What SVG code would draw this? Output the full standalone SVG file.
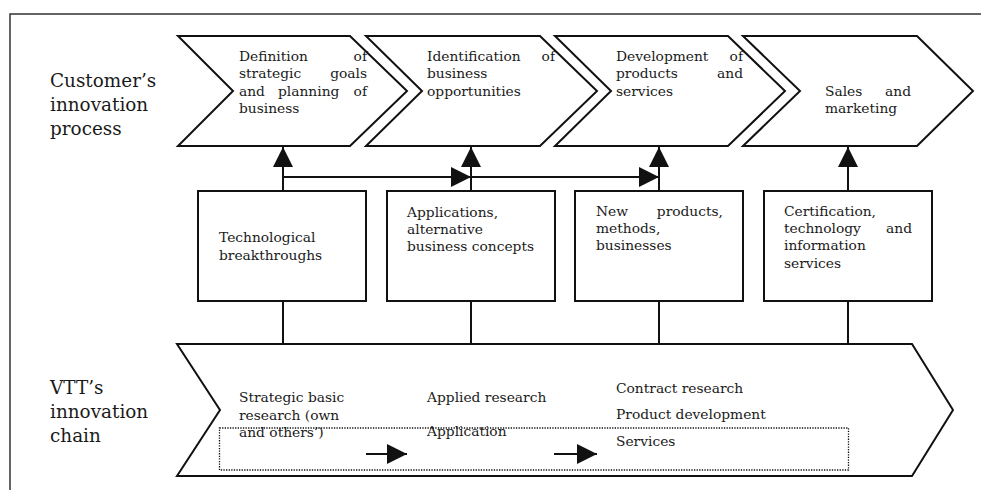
<svg xmlns="http://www.w3.org/2000/svg" width="981" height="490" viewBox="0 0 981 490">
  <defs>
    <style>
      .frame { fill: none; stroke: #333; stroke-width: 1.5; }
      .shape { fill: #fff; stroke: #111; stroke-width: 2; stroke-linejoin: miter; }
      .link { fill: none; stroke: #111; stroke-width: 2; }
      .dotted { fill: none; stroke: #111; stroke-width: 1.3; stroke-dasharray: 1.3 1.3; }
      .t { font-family: "DejaVu Serif", "Liberation Serif", serif; font-size: 13.8px; fill: #1a1a1a; }
      .big { font-family: "DejaVu Serif", "Liberation Serif", serif; font-size: 18.4px; fill: #1a1a1a; }
      .end { text-anchor: end; }
    </style>
    <marker id="head" markerUnits="userSpaceOnUse" viewBox="0 0 20 20" refX="20" refY="10" markerWidth="20" markerHeight="20" orient="auto">
      <path d="M0,0 L20,10 L0,20 z" fill="#111"/>
    </marker>
  </defs>

  <rect width="981" height="490" fill="#fff"/>

  <!-- outer frame: top and left edges only -->
  <path class="frame" d="M10,490 L10,14 L981,14"/>

  <!-- side labels -->
  <g id="label-customer">
    <text class="big" x="50" y="87">Customer’s</text>
    <text class="big" x="50" y="111">innovation</text>
    <text class="big" x="50" y="135">process</text>
  </g>
  <g id="label-vtt">
    <text class="big" x="50" y="394">VTT’s</text>
    <text class="big" x="50" y="418">innovation</text>
    <text class="big" x="50" y="442">chain</text>
  </g>

  <!-- customer's process steps -->
  <g id="step-strategy">
    <path class="shape" d="M178,36 L350,36 L407,91 L350,146 L178,146 L233,91 Z"/>
    <text class="t" x="239" y="61">Definition</text>
    <text class="t end" x="367" y="61">of</text>
    <text class="t" x="239" y="78">strategic</text>
    <text class="t end" x="367" y="78">goals</text>
    <text class="t" x="239" y="96">and</text>
    <text class="t" x="278" y="96">planning</text>
    <text class="t end" x="367" y="96">of</text>
    <text class="t" x="239" y="113">business</text>
  </g>
  <g id="step-opportunities">
    <path class="shape" d="M366,36 L540,36 L597,91 L540,146 L366,146 L422,91 Z"/>
    <text class="t" x="427" y="61">Identification</text>
    <text class="t end" x="555" y="61">of</text>
    <text class="t" x="427" y="78">business</text>
    <text class="t" x="427" y="96">opportunities</text>
  </g>
  <g id="step-development">
    <path class="shape" d="M555,36 L728,36 L785,91 L728,146 L555,146 L611,91 Z"/>
    <text class="t" x="616" y="61">Development</text>
    <text class="t end" x="743" y="61">of</text>
    <text class="t" x="616" y="78">products</text>
    <text class="t end" x="743" y="78">and</text>
    <text class="t" x="616" y="96">services</text>
  </g>
  <g id="step-sales">
    <path class="shape" d="M743,36 L917,36 L973,91 L917,146 L743,146 L800,91 Z"/>
    <text class="t" x="825" y="96">Sales</text>
    <text class="t end" x="911" y="96">and</text>
    <text class="t" x="825" y="113">marketing</text>
  </g>

  <!-- results boxes -->
  <g id="box-breakthroughs">
    <rect class="shape" x="198" y="191" width="168" height="110"/>
    <text class="t" x="219" y="242">Technological</text>
    <text class="t" x="219" y="260">breakthroughs</text>
  </g>
  <g id="box-applications">
    <rect class="shape" x="387" y="191" width="168" height="110"/>
    <text class="t" x="407" y="217">Applications,</text>
    <text class="t" x="407" y="234">alternative</text>
    <text class="t" x="407" y="251">business concepts</text>
  </g>
  <g id="box-products">
    <rect class="shape" x="575" y="191" width="168" height="110"/>
    <text class="t" x="596" y="216">New</text>
    <text class="t end" x="723" y="216">products,</text>
    <text class="t" x="596" y="233">methods,</text>
    <text class="t" x="596" y="250">businesses</text>
  </g>
  <g id="box-services">
    <rect class="shape" x="764" y="191" width="168" height="110"/>
    <text class="t" x="784" y="216">Certification,</text>
    <text class="t" x="784" y="233">technology</text>
    <text class="t end" x="912" y="233">and</text>
    <text class="t" x="784" y="250">information</text>
    <text class="t" x="784" y="268">services</text>
  </g>

  <!-- VTT's innovation chain -->
  <g id="chain">
    <path class="shape" d="M177,344 L912,344 L953,410 L912,476 L177,476 L220,410 Z"/>
    <rect class="dotted" x="219.5" y="428" width="629" height="42"/>
    <text class="t" x="239" y="402">Strategic basic</text>
    <text class="t" x="239" y="420">research (own</text>
    <text class="t" x="239" y="437">and others’)</text>
    <text class="t" x="427" y="402">Applied research</text>
    <text class="t" x="427" y="436">Application</text>
    <text class="t" x="616" y="393">Contract research</text>
    <text class="t" x="616" y="419">Product development</text>
    <text class="t" x="616" y="446">Services</text>
  </g>

  <!-- connectors -->
  <g id="connectors">
    <line class="link" x1="283" y1="191" x2="283" y2="147" marker-end="url(#head)"/>
    <line class="link" x1="471" y1="191" x2="471" y2="147" marker-end="url(#head)"/>
    <line class="link" x1="659" y1="191" x2="659" y2="147" marker-end="url(#head)"/>
    <line class="link" x1="848" y1="191" x2="848" y2="147" marker-end="url(#head)"/>
    <line class="link" x1="282" y1="177" x2="471" y2="177" marker-end="url(#head)"/>
    <line class="link" x1="471" y1="177" x2="659" y2="177" marker-end="url(#head)"/>
    <line class="link" x1="283" y1="301" x2="283" y2="344"/>
    <line class="link" x1="471" y1="301" x2="471" y2="344"/>
    <line class="link" x1="659" y1="301" x2="659" y2="344"/>
    <line class="link" x1="848" y1="301" x2="848" y2="344"/>
    <line class="link" x1="366" y1="454" x2="407" y2="454" marker-end="url(#head)"/>
    <line class="link" x1="554" y1="454" x2="597" y2="454" marker-end="url(#head)"/>
  </g>
</svg>
